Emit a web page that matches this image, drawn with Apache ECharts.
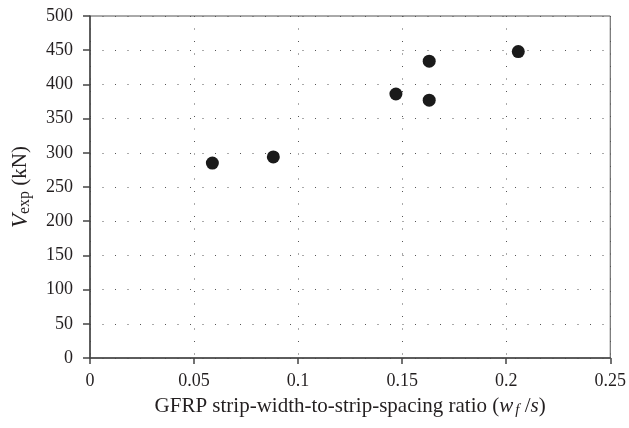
<!DOCTYPE html>
<html><head><meta charset="utf-8">
<script src="https://cdn.jsdelivr.net/npm/echarts@6/dist/echarts.min.js"></script>
<style>html,body{margin:0;padding:0;background:#fff}#c{width:629px;height:428px}</style>
</head><body><div id="c"></div>
<script>
const ratio = [0.0588, 0.0881, 0.147, 0.163, 0.163, 0.2058];
const vexp = [285, 294, 386, 434, 377, 448];
const xTicks = [0, 0.05, 0.1, 0.15, 0.2, 0.25];
const yTicks = [0, 50, 100, 150, 200, 250, 300, 350, 400, 450, 500];

const FONT = '"Liberation Serif", "DejaVu Serif", serif';
const TXT = '#231f20';
const chart = echarts.init(document.getElementById('c'));
const data = ratio.map((r, i) => [r, vexp[i]]);
chart.setOption({
  animation: false,
  grid: {left: 90, right: 17, top: 16, bottom: 70, show: true, borderColor: '#555', borderWidth: 1},
  xAxis: {
    type: 'value', min: xTicks[0], max: xTicks[xTicks.length-1], interval: 0.05,
    axisLine: {show: true, lineStyle: {color: '#444', width: 1.5}},
    axisTick: {show: true, length: 6, lineStyle: {color: '#444', width: 1.5}},
    axisLabel: {color: TXT, fontFamily: FONT, fontSize: 18, margin: 14,
      formatter: v => String(+v.toFixed(2))},
    splitLine: {show: true, lineStyle: {color: '#555', width: 1, type: [1, 11.5]}},
    name: 'GFRP strip-width-to-strip-spacing ratio ({i|w}{isub|f}{n| /}{i|s})',
    nameLocation: 'middle', nameGap: 36,
    nameTextStyle: {color: TXT, fontFamily: FONT, fontSize: 21,
      rich: {
        i: {fontFamily: FONT, fontSize: 21, fontStyle: 'italic', color: TXT},
        isub: {fontFamily: FONT, fontSize: 15, fontStyle: 'italic', color: TXT, padding: [9, 0, 0, 2]},
        n: {fontFamily: FONT, fontSize: 21, color: TXT}
      }}
  },
  yAxis: {
    type: 'value', min: yTicks[0], max: yTicks[yTicks.length-1], interval: 50,
    axisLine: {show: true, lineStyle: {color: '#444', width: 1.5}},
    axisTick: {show: true, length: 7, lineStyle: {color: '#444', width: 1.5}},
    axisLabel: {color: TXT, fontFamily: FONT, fontSize: 18, margin: 17},
    splitLine: {show: true, lineStyle: {color: '#555', width: 1, type: [1, 11.5]}},
    name: '{i|V}{sub|exp}{n| (kN)}',
    nameLocation: 'middle', nameGap: 57,
    nameTextStyle: {color: TXT, fontFamily: FONT, fontSize: 21,
      rich: {
        i: {fontFamily: FONT, fontSize: 23, fontStyle: 'italic', color: TXT},
        sub: {fontFamily: FONT, fontSize: 16, color: TXT, padding: [9, 0, 0, 0]},
        n: {fontFamily: FONT, fontSize: 21, color: TXT}
      }}
  },
  series: [{
    type: 'scatter', data: data, symbol: 'circle', symbolSize: 13,
    itemStyle: {color: '#1a1a1a', opacity: 1}
  }]
});
</script></body></html>
